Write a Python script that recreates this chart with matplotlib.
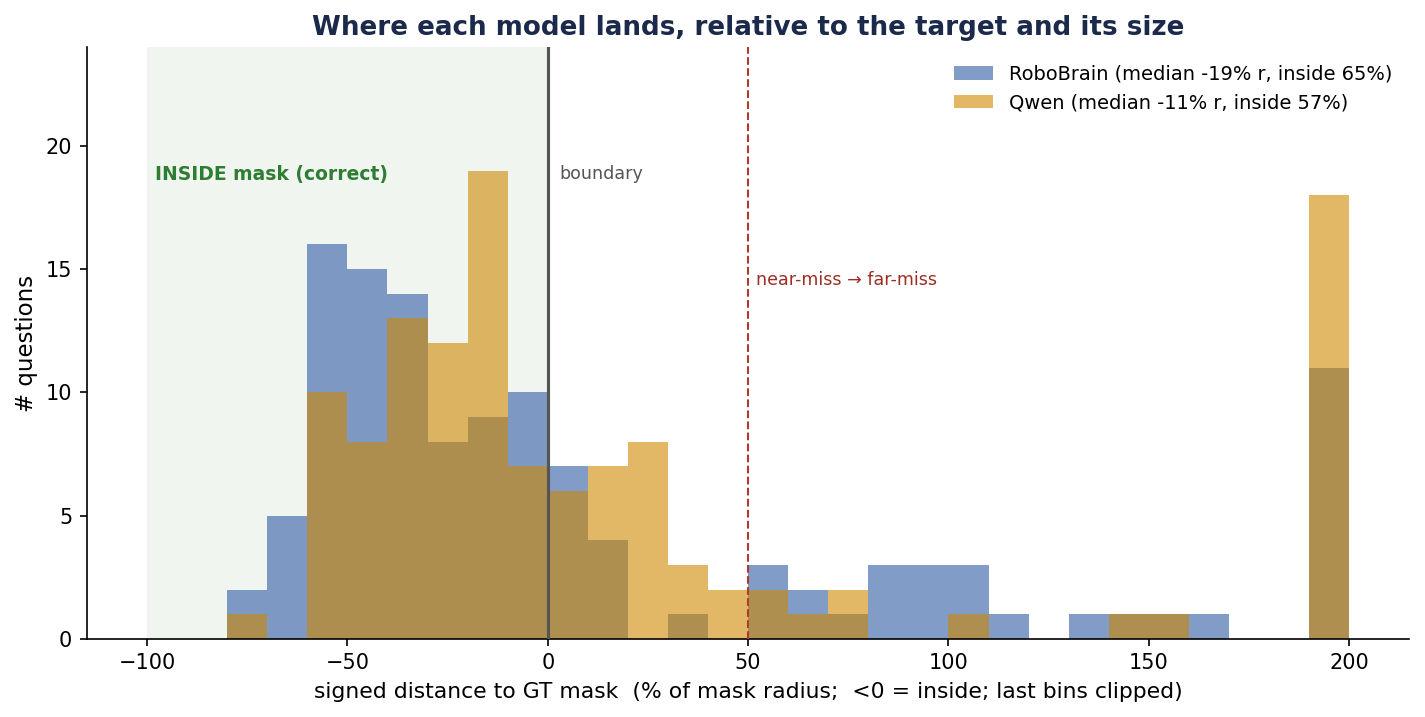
import numpy as np
import matplotlib
matplotlib.use("Agg")
import matplotlib.pyplot as plt

bin_edges = list(range(-100, 201, 10))
robobrain_counts = [0, 0, 2, 5, 16, 15, 14, 8, 9, 10,
                    7, 4, 0, 1, 0, 3, 2, 1, 3, 3,
                    3, 1, 0, 1, 1, 1, 1, 0, 0, 11]
qwen_counts = [0, 0, 1, 0, 10, 8, 13, 12, 19, 7,
               6, 7, 8, 3, 2, 2, 1, 2, 0, 0,
               1, 0, 0, 0, 1, 1, 0, 0, 0, 18]
robo_label = "RoboBrain (median -19% r, inside 65%)"
qwen_label = "Qwen (median -11% r, inside 57%)"

edges = np.array(bin_edges, dtype=float)
centers = (edges[:-1] + edges[1:]) / 2

fig, ax = plt.subplots(figsize=(9.5, 4.78), dpi=150)

ax.axvspan(-100, 0, color="#2E7D32", alpha=0.07, lw=0, zorder=0)
ax.hist(centers, bins=edges, weights=robobrain_counts, color="#4C72B0",
        alpha=0.7, label=robo_label, zorder=1)
ax.hist(centers, bins=edges, weights=qwen_counts, color="#CF8700",
        alpha=0.6, label=qwen_label, zorder=2)
ax.axvline(0, color="#555555", lw=1.5, zorder=3)
ax.axvline(50, color="#B03A2E", lw=1.0, ls="--", zorder=3)

ax.text(-98, 18.85, "INSIDE mask (correct)", color="#2E7D32", fontsize=9,
        fontweight="bold", va="center", ha="left")
ax.text(3, 18.85, "boundary", color="#555555", fontsize=8.4, va="center", ha="left")
ax.text(52, 14.55, "near-miss → far-miss", color="#9B2F24", fontsize=8.4,
        va="center", ha="left")

ax.set_xlim(-115, 215)
ax.set_ylim(0, 24)
ax.set_yticks([0, 5, 10, 15, 20])
ax.set_xlabel("signed distance to GT mask  (% of mask radius;  <0 = inside; last bins clipped)",
              fontsize=10.5)
ax.set_ylabel("# questions", fontsize=11)
ax.set_title("Where each model lands, relative to the target and its size",
             fontsize=12.55, fontweight="bold", color="#1B2A4A")
ax.tick_params(labelsize=10)
for s in ["top", "right"]:
    ax.spines[s].set_visible(False)
ax.legend(loc="upper right", frameon=False, fontsize=9.3)

fig.subplots_adjust(left=0.061, right=0.989, top=0.934, bottom=0.109)
fig.savefig("out.png", dpi=150)
